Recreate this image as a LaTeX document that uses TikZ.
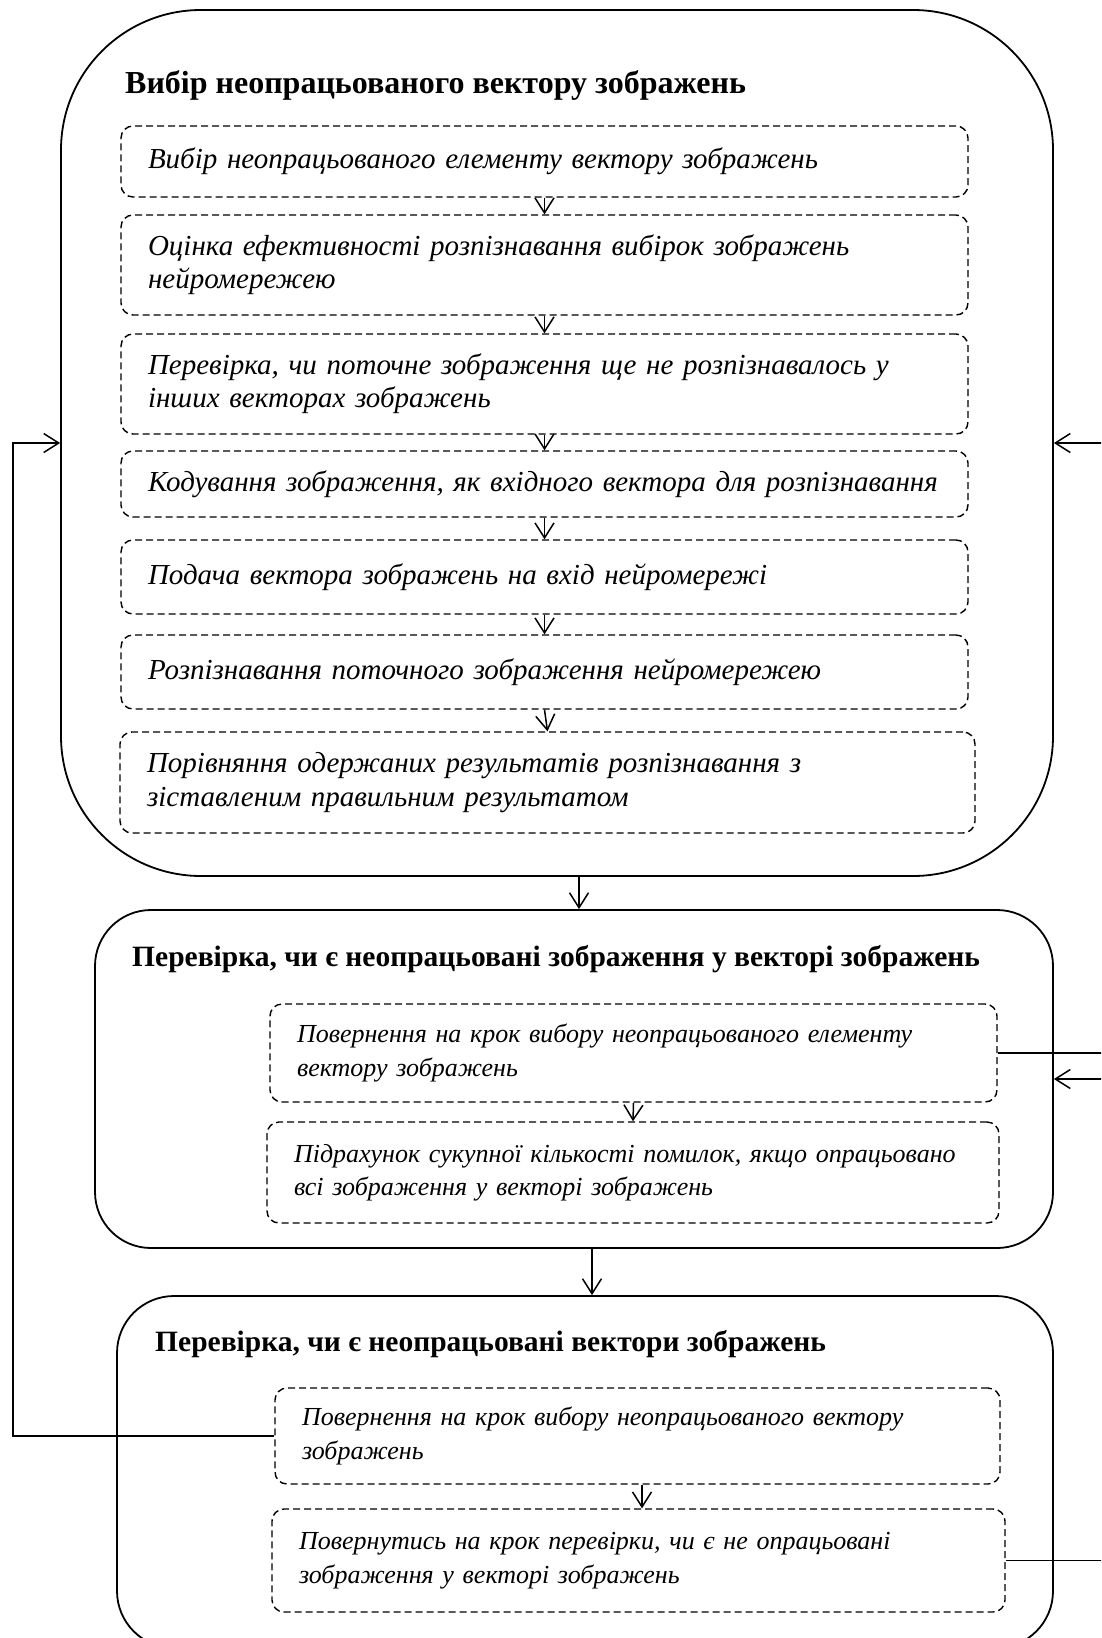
\documentclass[tikz,border=0pt]{standalone}
\usepackage{fontspec}
\setmainfont{Liberation Serif}
\usetikzlibrary{arrows.meta}
\tikzset{
  bigbox/.style={draw, line width=1.8pt, inner sep=0pt},
  stepbox/.style={draw, line width=1.4pt, dash pattern=on 7pt off 4pt, rounded corners=12pt,
    align=left, inner xsep=27pt, inner ysep=0pt,
    font=\fontsize{29pt}{33.4pt}\selectfont\itshape},
  smallstep/.style={stepbox, font=\fontsize{26pt}{33.4pt}\selectfont\itshape},
  titletext/.style={anchor=base west, inner sep=0pt, font=\fontsize{29.5pt}{34pt}\selectfont\bfseries},
  arr/.style={line width=1.5pt, -{Straight Barb[length=15pt,width=19pt,line width=1.5pt]}},
  con/.style={line width=1.5pt}
}
\begin{document}
\begin{tikzpicture}[x=1pt,y=-1pt]
\useasboundingbox (0,0) rectangle (1101,1638);
\clip (0,0) rectangle (1101,1638);
% big boxes
\node[bigbox, minimum width=992pt, minimum height=866pt, rounded corners=140pt] (B1) at (557,443) {};
\node[bigbox, minimum width=958pt, minimum height=338pt, rounded corners=56pt] (B2) at (574,1079) {};
\node[bigbox, minimum width=936pt, minimum height=352pt, rounded corners=57pt] (B3) at (585,1472) {};
% titles
\node[titletext, font=\fontsize{32pt}{37pt}\selectfont\bfseries] (T1) at (125,93) {Вибір неопрацьованого вектору зображень};
\node[titletext] (T2) at (132,966) {Перевірка, чи є неопрацьовані зображення у векторі зображень};
\node[titletext] (T3) at (155,1351) {Перевірка, чи є неопрацьовані вектори зображень};
% steps in box 1
\node[stepbox, text width=793pt, minimum height=71pt] (D1) at (544.5,161.5) {Вибір неопрацьованого елементу вектору зображень};
\node[stepbox, text width=793pt, minimum height=100pt] (D2) at (544.5,265) {Оцінка ефективності розпізнавання вибірок зображень\\нейромережею};
\node[stepbox, text width=793pt, minimum height=100pt] (D3) at (544.5,384) {Перевірка, чи поточне зображення ще не розпізнавалось у\\інших векторах зображень};
\node[stepbox, text width=793pt, minimum height=66pt] (D4) at (544.5,484) {Кодування зображення, як вхідного вектора для розпізнавання};
\node[stepbox, text width=793pt, minimum height=74pt] (D5) at (544.5,577) {Подача вектора зображень на вхід нейромережі};
\node[stepbox, text width=793pt, minimum height=74pt] (D6) at (544.5,672) {Розпізнавання поточного зображення нейромережею};
\node[stepbox, text width=801pt, minimum height=101pt] (D7) at (547.5,782.5) {Порівняння одержаних результатів розпізнавання з\\зіставленим правильним результатом};
% steps in box 2
\node[smallstep, text width=673pt, minimum height=98pt] (E1) at (633.5,1053) {Повернення на крок вибору неопрацьованого елементу\\вектору зображень};
\node[smallstep, text width=678pt, minimum height=101pt] (E2) at (633,1172.5) {Підрахунок сукупної кількості помилок, якщо опрацьовано\\всі зображення у векторі зображень};
% steps in box 3
\node[smallstep, text width=671pt, minimum height=96pt] (F1) at (637.5,1436) {Повернення на крок вибору неопрацьованого вектору\\зображень};
\node[smallstep, text width=679pt, minimum height=103pt] (F2) at (638.5,1560.5) {Повернутись на крок перевірки, чи є не опрацьовані\\зображення у векторі зображень};
% helper coordinates
\coordinate (L) at (13,0);
\coordinate (R) at (1110,0);
\coordinate (a12) at (579,0);
\coordinate (a23) at (592,0);
\coordinate (af) at (642,0);
% arrows inside boxes
\draw[arr] (D1.south) -- (D2.north);
\draw[arr] (D2.south) -- (D3.north);
\draw[arr] (D3.south) -- (D4.north);
\draw[arr] (D4.south) -- (D5.north);
\draw[arr] (D5.south) -- (D6.north);
\draw[arr] (D6.south) -- (D7.north);
\draw[arr] (E1.south) -- (E2.north);
\draw[arr] (af |- F1.south) -- (af |- F2.north);
% arrows between big boxes
\draw[arr] (a12 |- B1.south) -- (a12 |- B2.north);
\draw[arr] (a23 |- B2.south) -- (a23 |- B3.north);
% loops
\draw[arr] (F1.west) -- (L |- F1.west) -- (L |- B1.west) -- (B1.west);
\draw[arr] (R |- B1.east) -- (B1.east);
\draw[con] (E1.east) -- (R |- E1.east);
\draw[arr] (R |- B2.east) -- (B2.east);
\draw[con] (F2.east) -- (R |- F2.east);
\end{tikzpicture}
\end{document}
